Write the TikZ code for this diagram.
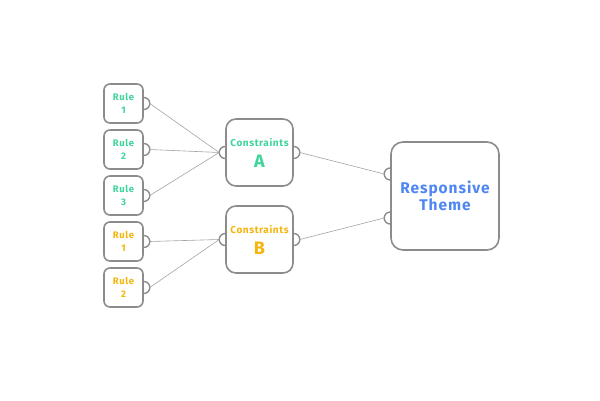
\documentclass[tikz,border=0pt]{standalone}
\usepackage{fontspec}
\setmainfont{Fira Sans}[LetterSpace=6]
\definecolor{ruleA}{HTML}{3FD49C}
\definecolor{ruleB}{HTML}{F5B50A}
\definecolor{themeblue}{HTML}{4F86F2}
\definecolor{edgegray}{HTML}{8C8C8C}
\tikzset{
  rulebox/.style={draw=edgegray, line width=1.6pt, rounded corners=6pt,
    minimum width=39pt, minimum height=39pt, align=center,
    font=\bfseries\fontsize{9.5}{13.5}\selectfont, fill=white},
  groupbox/.style={rulebox, rounded corners=10pt, minimum width=67pt,
    minimum height=67pt, font=\bfseries\fontsize{10}{13}\selectfont},
  themebox/.style={rulebox, rounded corners=12pt, minimum width=108pt,
    minimum height=108pt, font=\bfseries\fontsize{15.5}{17}\selectfont},
  bump/.style={draw=edgegray, line width=1.4pt},
  wire/.style={draw=edgegray!80, line width=0.6pt}
}
\begin{document}
\begin{tikzpicture}[x=1pt, y=1pt]
  \useasboundingbox (0,0) rectangle (600,400);
  % rules
  \node[rulebox, text=ruleA] (ra1) at (123.5,296.5) {Rule\\1};
  \node[rulebox, text=ruleA] (ra2) at (123.5,250.5) {Rule\\2};
  \node[rulebox, text=ruleA] (ra3) at (123.5,204.5) {Rule\\3};
  \node[rulebox, text=ruleB] (rb1) at (123.5,158.5) {Rule\\1};
  \node[rulebox, text=ruleB] (rb2) at (123.5,112.5) {Rule\\2};
  % constraints
  \node[groupbox, text=ruleA] (ca) at (259.5,247.5)
    {Constraints\\[8pt]{\fontsize{18}{18}\selectfont A}};
  \node[groupbox, text=ruleB] (cb) at (259.5,160.5)
    {Constraints\\[8pt]{\fontsize{18}{18}\selectfont B}};
  % theme
  \node[themebox, text=themeblue] (theme) at (445,204) {Responsive\\Theme};
  % bumps on the right
  \foreach \n in {ra1,ra2,ra3,rb1,rb2,ca,cb}{
    \draw[bump] ([yshift=6pt]\n.east) arc (90:-90:6pt);
    \coordinate (\n-out) at ([xshift=6pt]\n.east);
  }
  % bumps on the left
  \foreach \n in {ca,cb}{
    \draw[bump] ([yshift=6pt]\n.west) arc (90:270:6pt);
    \coordinate (\n-in) at ([xshift=-6pt]\n.west);
  }
  \draw[bump] ([yshift=28pt]theme.west) arc (90:270:6pt);
  \coordinate (theme-in1) at ([xshift=-6pt, yshift=22pt]theme.west);
  \draw[bump] ([yshift=-16pt]theme.west) arc (90:270:6pt);
  \coordinate (theme-in2) at ([xshift=-6pt, yshift=-22pt]theme.west);
  % wires
  \draw[wire] (ra1-out) -- (ca-in);
  \draw[wire] (ra2-out) -- (ca-in);
  \draw[wire] (ra3-out) -- (ca-in);
  \draw[wire] (rb1-out) -- (cb-in);
  \draw[wire] (rb2-out) -- (cb-in);
  \draw[wire] (ca-out) -- (theme-in1);
  \draw[wire] (cb-out) -- (theme-in2);
\end{tikzpicture}
\end{document}
